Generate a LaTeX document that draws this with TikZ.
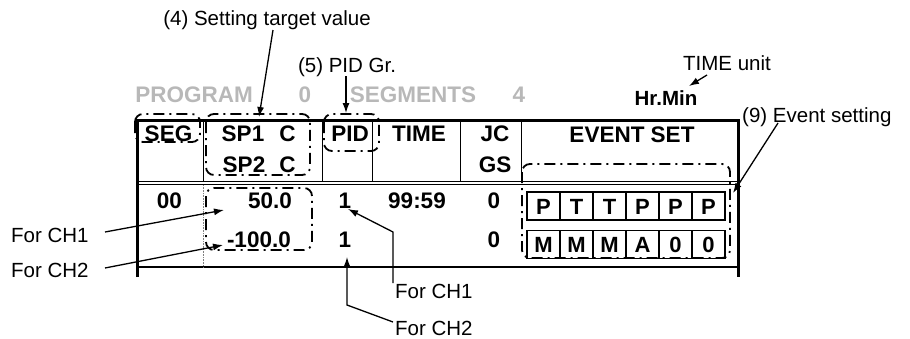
\documentclass[tikz,border=0pt]{standalone}
\usepackage{fontspec}
\setmainfont{Liberation Sans}
\usetikzlibrary{arrows.meta}
\definecolor{lgray}{gray}{0.72}
\begin{document}
\begin{tikzpicture}[x=1pt,y=-1pt,
  lbl/.style={inner sep=0pt,anchor=base,font=\fontsize{20.5}{24}\selectfont},
  bld/.style={inner sep=0pt,anchor=base,font=\fontsize{22.5}{26}\selectfont\bfseries},
  gry/.style={bld,text=lgray},
  thickln/.style={line width=3pt},
  thinln/.style={line width=0.9pt},
  ddbox/.style={line width=1.8pt,rounded corners=8pt,dash pattern=on 11pt off 5pt on 2pt off 5pt},
  arr/.style={line width=1.3pt,-{Latex[length=10pt,width=7pt]}},
  cell/.style={draw,line width=1.1pt,minimum width=33pt,minimum height=28pt,inner sep=0pt,
    text height=16pt,text depth=0pt,font=\fontsize{22}{26}\selectfont\bfseries}
]
\useasboundingbox (0,0) rectangle (910,338);

% ---- labels above
\node[lbl] (t4) at (267,25) {(4) Setting target value};
\node[lbl] (t5) at (347,72.5) {(5) PID Gr.};
\node[lbl] (tu) at (727,70) {TIME unit};
\node[lbl,anchor=base west] (t9) at (742,122) {(9) Event setting};

\node[gry] (prog) at (194,102) {PROGRAM};
\node[gry] (pnum) at (305,102) {0};
\node[gry] (segm) at (413,102) {SEGMENTS};
\node[gry] (snum) at (519,102) {4};
\node[bld,font=\fontsize{20.5}{24}\selectfont\bfseries] (hrmin) at (666,105) {Hr.Min};

% ---- table frame
\coordinate (TL) at (137,120);
\coordinate (TR) at (738,120);
\coordinate (BL) at (137,277);
\coordinate (BR) at (738,277);
\draw[thickln] (BL) -- (TL) -- (TR) -- (BR);
\draw[thinln] (137,181.5) -- (738,181.5);
\draw[thinln] (137,184.5) -- (738,184.5);
\draw[line width=1.4pt] (137,267) -- (738,267);
\foreach \xx in {203,322,372,460,521}{\draw[thinln] (\xx,120) -- (\xx,182);}
\draw[line width=0.6pt,densely dotted,gray] (203,185) -- (203,267);

% ---- header text
\node[bld] (hseg) at (168.5,141) {SEG};
\node[bld] (hsp1) at (243,141) {SP1};
\node[bld] (hc1) at (287.5,141) {C};
\node[bld] (hsp2) at (244,172) {SP2};
\node[bld] (hc2) at (287.5,172) {C};
\node[bld] (hpid) at (350,141) {PID};
\node[bld] (htime) at (419,141) {TIME};
\node[bld] (hjc) at (495,141) {JC};
\node[bld] (hgs) at (495,172) {GS};
\node[bld] (hev) at (632,142) {EVENT SET};

% ---- data
\node[bld] (d00) at (169.5,208) {00};
\node[bld,anchor=base east] (dv1) at (292,208) {50.0};
\node[bld,anchor=base east] (dv2) at (291,247) {-100.0};
\node[bld] (dp1) at (345,208) {1};
\node[bld] (dp2) at (345,247) {1};
\node[bld] (dtime) at (417,208) {99:59};
\node[bld] (dj1) at (494,208) {0};
\node[bld] (dj2) at (494,247) {0};

% ---- event cells
\foreach \t [count=\i from 0] in {P,T,T,P,P,P}{
  \node[cell] (ea\i) at (543.5+33*\i,206) {\t};}
\foreach \t [count=\i from 0] in {M,M,M,A,0,0}{
  \node[cell] (eb\i) at (543.5+33*\i,244.5) {\t};}

% ---- dash-dot boxes
\draw[ddbox] (135,114) rectangle (200,142);
\draw[ddbox] (206,114) rectangle (310,175);
\draw[ddbox] (324,114) rectangle (379,151);
\draw[ddbox] (206,188) rectangle (312,250);
\draw[ddbox] (522,164) rectangle (730,258);

% ---- bottom/left labels
\node[lbl,anchor=base west] (lc1) at (11,242) {For CH1};
\node[lbl,anchor=base west] (lc2) at (11,277) {For CH2};
\node[lbl,anchor=base west] (bc1) at (395,298.5) {For CH1};
\node[lbl,anchor=base west] (bc2) at (395,335) {For CH2};

% ---- arrows
\coordinate (a4s) at (273,30);  \coordinate (a4e) at (259,117);
\coordinate (a5s) at (346,76);  \coordinate (a5e) at (346,113);
\coordinate (aus) at (707,75);  \coordinate (aue) at (689,86);
\coordinate (a9s) at (778,123); \coordinate (a9e) at (733,193);
\coordinate (l1s) at (105,232); \coordinate (l1e) at (224,210);
\coordinate (l2s) at (105,268); \coordinate (l2e) at (223,245);
\coordinate (b1s) at (393,283); \coordinate (b1m) at (393,232); \coordinate (b1e) at (348,209);
\coordinate (b2s) at (393,322); \coordinate (b2m) at (347,305); \coordinate (b2e) at (347,257);

\draw[arr] (a4s) -- (a4e);
\draw[arr] (a5s) -- (a5e);
\draw[arr] (aus) -- (aue);
\draw[arr] (a9s) -- (a9e);
\draw[arr] (l1s) -- (l1e);
\draw[arr] (l2s) -- (l2e);
\draw[arr] (b1s) -- (b1m) -- (b1e);
\draw[arr] (b2s) -- (b2m) -- (b2e);
\end{tikzpicture}
\end{document}
